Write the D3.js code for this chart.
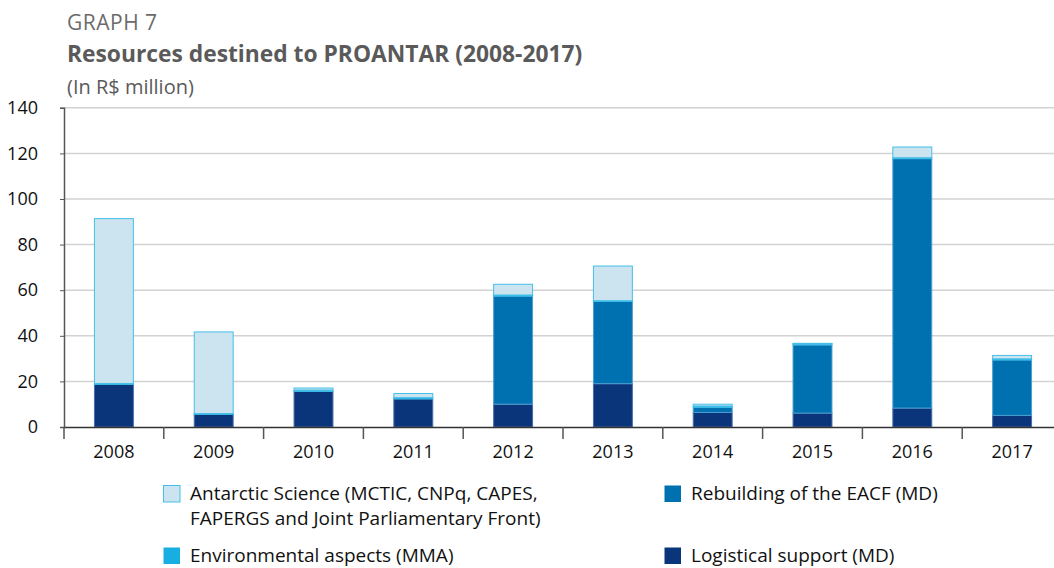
<!DOCTYPE html>
<html>
<head>
<meta charset="utf-8">
<script src="https://cdn.jsdelivr.net/npm/d3@7"></script>
<style>
  body { margin: 0; background: #fff; }
  svg { display: block; font-family: "Open Sans", sans-serif; }
</style>
</head>
<body>
<div id="container"></div>
<script>
// Data (R$ million)
var years = ["2008", "2009", "2010", "2011", "2012", "2013", "2014", "2015", "2016", "2017"];
var logistical = [18.7, 5.6, 15.6, 12.3, 10.0, 19.0, 6.4, 6.1, 8.3, 5.1];
var rebuilding = [0, 0, 0, 0, 47.4, 36.1, 2.2, 29.9, 109.4, 24.3];
var environmental = [0.4, 0.3, 0.6, 0.6, 0.5, 0.3, 0.6, 0.6, 0.4, 0.5];
var science = [72.3, 35.8, 0.9, 1.8, 4.7, 15.2, 0.8, 0.1, 4.7, 1.5];
var yTicks = [0, 20, 40, 60, 80, 100, 120, 140];

var seriesKeys = ["logistical", "rebuilding", "environmental", "science"];
var seriesNames = {
  science: ["Antarctic Science (MCTIC, CNPq, CAPES,", "FAPERGS and Joint Parliamentary Front)"],
  rebuilding: ["Rebuilding of the EACF (MD)"],
  environmental: ["Environmental aspects (MMA)"],
  logistical: ["Logistical support (MD)"]
};
var fills = {logistical: "#0b357a", rebuilding: "#0071b0", environmental: "#17afe1", science: "#cce4f0"};
var strokes = {logistical: "#4a6ea8", rebuilding: "#4d9fd0", environmental: "#3cbde8", science: "#45bfe8"};

// Build table for the stack
var table = years.map(function(y, i) {
  return {year: y, logistical: logistical[i], rebuilding: rebuilding[i],
          environmental: environmental[i], science: science[i]};
});

var width = 1054,
    height = 568;

var svg = d3.select("#container")
  .append("svg")
    .attr("width", width)
    .attr("height", height);

// Titles
svg.append("text")
  .attr("x", 67).attr("y", 30)
  .attr("fill", "#6b6b6b")
  .style("font-size", "21px")
  .style("letter-spacing", "0.5px")
  .text("GRAPH 7");
svg.append("text")
  .attr("x", 67).attr("y", 62)
  .attr("fill", "#5a5a5a")
  .style("font-size", "22.8px")
  .style("font-weight", "bold")
  .text("Resources destined to PROANTAR (2008-2017)");
svg.append("text")
  .attr("x", 67).attr("y", 94)
  .attr("fill", "#5a5a5a")
  .style("font-size", "20px")
  .text("(In R$ million)");

// Scales
var x = d3.scaleBand()
  .domain(years)
  .range([64, 1062])
  .paddingInner(0.6)
  .paddingOuter(0.3);

var y = d3.scaleLinear()
  .domain([0, 140])
  .range([427, 107.8]);

// Gridlines
svg.append("g")
  .selectAll("line")
  .data(yTicks.filter(function(d) { return d > 0; }))
  .enter()
  .append("line")
    .attr("x1", 64).attr("x2", width)
    .attr("y1", function(d) { return y(d); })
    .attr("y2", function(d) { return y(d); })
    .attr("stroke", "#d2d2d2")
    .attr("stroke-width", 1.5);

// Stacked bars
var stack = d3.stack().keys(seriesKeys);
var layers = stack(table);

svg.append("g")
  .selectAll("g")
  .data(layers)
  .enter()
  .append("g")
    .attr("fill", function(d) { return fills[d.key]; })
    .attr("stroke", function(d) { return strokes[d.key]; })
  .selectAll("rect")
  .data(function(d) { return d.filter(function(s) { return s[1] - s[0] > 0; }); })
  .enter()
  .append("rect")
    .attr("x", function(d) { return x(d.data.year) + 0.5; })
    .attr("width", x.bandwidth() - 1)
    .attr("y", function(d) { return y(d[1]); })
    .attr("height", function(d) { return Math.max(y(d[0]) - y(d[1]), 0.8); })
    .attr("stroke-width", 1);

// Y axis
var yAxis = d3.axisLeft(y)
  .tickValues(yTicks)
  .tickSize(4)
  .tickPadding(22);

svg.append("g")
  .attr("transform", "translate(64,0)")
  .call(yAxis)
  .call(function(g) {
    g.select(".domain").attr("stroke", "#555").attr("stroke-width", 1.5);
    g.selectAll(".tick line").attr("stroke", "#555");
    g.selectAll(".tick text")
      .attr("fill", "#111")
      .style("font-size", "18px")
      .style("font-family", "'Open Sans', sans-serif");
  });

// X axis
var xAxis = d3.axisBottom(x)
  .tickSize(0)
  .tickPadding(18);

svg.append("g")
  .attr("transform", "translate(0,427)")
  .call(xAxis)
  .call(function(g) {
    g.select(".domain").attr("stroke", "#333").attr("stroke-width", 1.5);
    g.selectAll(".tick text")
      .attr("fill", "#111")
      .style("font-size", "18px")
      .style("font-family", "'Open Sans', sans-serif");
  });

// X tick marks at band boundaries
svg.append("g")
  .selectAll("line")
  .data(years)
  .enter()
  .append("line")
    .attr("x1", function(d) { return x(d) - x.step() * x.paddingInner() / 2; })
    .attr("x2", function(d) { return x(d) - x.step() * x.paddingInner() / 2; })
    .attr("y1", 427).attr("y2", 439)
    .attr("stroke", "#555")
    .attr("stroke-width", 1.5);

// Legend
var legendItems = [
  {key: "science", x: 163, y: 485},
  {key: "rebuilding", x: 664, y: 485},
  {key: "environmental", x: 163, y: 547},
  {key: "logistical", x: 664, y: 547}
];

var legend = svg.append("g")
  .selectAll("g")
  .data(legendItems)
  .enter()
  .append("g")
    .attr("transform", function(d) { return "translate(" + d.x + "," + d.y + ")"; });

legend.append("rect")
  .attr("x", 0.5).attr("y", 0.5)
  .attr("width", 16.5).attr("height", 16.5)
  .attr("fill", function(d) { return fills[d.key]; })
  .attr("stroke", function(d) { return d.key == "science" ? strokes[d.key] : "none"; });

legend.append("text")
  .attr("x", 27)
  .attr("y", 15)
  .attr("fill", "#111")
  .style("font-size", "19px")
  .selectAll("tspan")
  .data(function(d) { return seriesNames[d.key]; })
  .enter()
  .append("tspan")
    .attr("x", 27)
    .attr("dy", function(d, i) { return i == 0 ? 0 : 25; })
    .text(function(d) { return d; });
</script>
</body>
</html>
